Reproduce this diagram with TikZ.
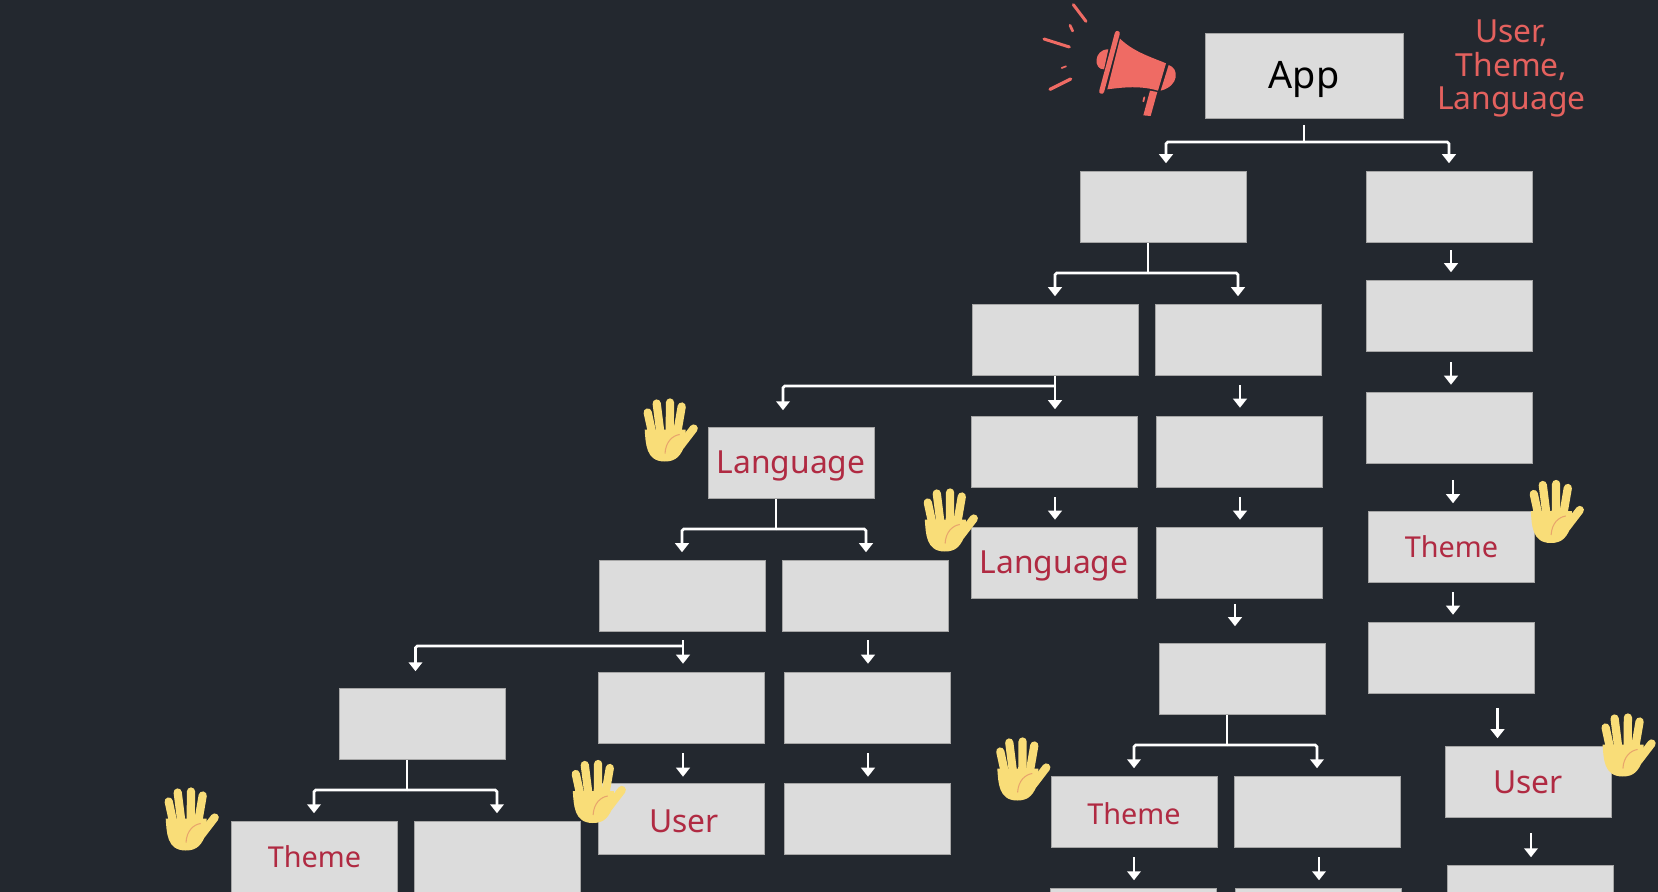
\documentclass[tikz,border=0pt]{standalone}
\usepackage{fontspec}
\setmainfont{Noto Sans}
\usetikzlibrary{arrows.meta}
\definecolor{slate}{HTML}{23282F}
\definecolor{boxgray}{HTML}{DCDCDC}
\definecolor{keyred}{HTML}{B02A42}
\definecolor{shout}{HTML}{E4615E}
\definecolor{horn}{HTML}{EF6B64}
\definecolor{palm}{HTML}{F9DD78}
\definecolor{crease}{HTML}{E8A56C}

\begin{document}
\begin{tikzpicture}[
  x=0.02cm,y=-0.02cm,
  panel/.style={draw=black!35,line width=0.3pt,fill=boxgray,inner sep=0pt,minimum width=3.32cm,minimum height=1.42cm},
  keyword/.style={text=keyred,font=\fontsize{18.1}{20}\selectfont},
  themeword/.style={text=keyred,font=\fontsize{16.4}{20}\selectfont},
  wire/.style={draw=white,line width=1.5pt},
  arrow/.style={wire,rounded corners=1pt,-{Triangle[length=1.8mm,width=2.7mm]}},
  hand/.pic={
    \foreach \tx/\ty/\bx/\by in {-19/-23/-14/0,-10/-32/-6/0,3.3/-33/3/0,15/-29/10/0,27/-7/14/10}
      \draw[palm,line width=1.65mm,line cap=round] (\bx,\by) -- (\tx,\ty);
    \fill[palm] (-22,-6) .. controls (-21,8) and (-21,26) .. (-2,26) .. controls (10,26) and (14,20) .. (19,8) -- (19,-6) -- cycle;
    \draw[crease,line width=0.6pt] (-1.7,18) .. controls (-1,6) and (6,0) .. (13,-1);
  }
]
\useasboundingbox (0,0) rectangle (1658,892);
\clip (0,0) rectangle (1658,892);
\fill[slate] (0,0) rectangle (1658,892);

% Top of the tree
\node[panel,minimum width=3.96cm,minimum height=1.7cm,text height=19pt,font=\fontsize{21.5}{24}\selectfont] (app) at (1304,76) {App};
\node[text=shout,align=center,font=\fontsize{18.1}{19.2}\selectfont] (provided) at (1511.5,68.5) {User,\\Theme,\\Language};
\node[panel] (b1) at (1163,207) {};

% Right column
\node[panel] (c1) at (1449,207) {};
\node[panel] (c2) at (1449,316) {};
\node[panel] (c3) at (1449,427.5) {};
\node[panel,themeword] (cTheme) at (1451.5,547) {Theme};
\node[panel] (c5) at (1451.5,658) {};
\node[panel,keyword] (cUser) at (1528,782) {User};
\node[panel] (c7) at (1530.6,901) {};

% Middle columns
\node[panel] (d1) at (1055,340) {};
\node[panel] (d2) at (1054,452) {};
\node[panel,keyword,text height=16.3pt] (dLang) at (1054,563) {Language};
\node[panel] (e1) at (1238,340) {};
\node[panel] (e2) at (1239,452) {};
\node[panel] (e3) at (1239,563) {};
\node[panel] (e4) at (1242.5,679) {};
\node[panel,themeword,text height=14.9pt] (eTheme) at (1134,812) {Theme};
\node[panel] (e5) at (1317.7,812) {};
\node[panel] (e6) at (1133,924) {};
\node[panel] (e7) at (1318.6,924) {};

% Left branch
\node[panel,keyword,text height=16.3pt] (fLang) at (791,463) {Language};
\node[panel] (f1) at (682.6,596) {};
\node[panel] (f2) at (865.5,596) {};
\node[panel] (f3) at (681.5,708) {};
\node[panel] (f4) at (867,708) {};
\node[panel,keyword,text height=15.3pt] (fUser) at (681.5,819) {\hspace*{3pt}User};
\node[panel] (f5) at (867,819) {};
\node[panel] (g1) at (422.5,724) {};
\node[panel,themeword] (gTheme) at (314.5,857) {Theme};
\node[panel] (g2) at (497.5,857) {};

% Forks with two children
\foreach \from/\stem/\forky/\gap/\toa/\xa/\tob/\xb in {app/1304/142/6/b1/1166/c1/1449,b1/1148/273/0/d1/1055/e1/1238,fLang/776/529/0/f1/682/f2/866,e4/1227/745/0/eTheme/1134/e5/1317,g1/407/790/0/gTheme/314/g2/497} {
  \coordinate (fork) at (\stem,\forky);
  \draw[wire,shorten <=\gap*0.02cm] (\from.south -| \stem,0) -- (fork);
  \draw[arrow,shorten >=1.6mm] (fork) -| (\toa.north -| \xa,0);
  \draw[arrow,shorten >=1.6mm] (fork) -| (\tob.north -| \xb,0);
}

% Forks that reach a far branch
\coordinate (dfork) at (1055,386);
\draw[arrow,shorten >=3.4mm] (dfork) -| (fLang.north -| 783,0);
\coordinate (ffork) at (683,646);
\draw[arrow,shorten >=3.4mm] (ffork) -| (g1.north -| 415.5,0);

% Straight links
\foreach \from/\to/\x/\a/\b in {c1/c2/1451/7.5/8,c2/c3/1451/10.5/7,c3/cTheme/1453/16.5/8,cTheme/c5/1453/9.5/7.5,c5/cUser/1497.5/14.5/8,cUser/c7/1531/15.5/8,d1/d2/1055/0/7,d2/dLang/1055/9.5/7.5,e1/e2/1240/9.5/8.5,e2/e3/1240/9.5/7.5,e3/e4/1235/5.5/17,eTheme/e6/1134/9.5/8,e5/e7/1319/9.5/8,f1/f3/683/8.5/8.5,f2/f4/868/8.5/8.5,f3/fUser/683/9.5/6.5,f4/f5/868/9.5/6.5}
  \draw[arrow,shorten <=\a*0.02cm,shorten >=\b*0.02cm] (\from.south -| \x,0) -- (\to.north -| \x,0);

% Raised hands
\foreach \x/\y in {666.7/435.5,946.8/525.5,1552.8/517,1624.6/750.5,1019.3/774.5,594.8/797,187.7/824.5}
  \pic at (\x,\y) {hand};

% Megaphone
\begin{scope}[shift={(1020,0)},x=0.00667cm,y=-0.00667cm]
  \fill[horn] (265,148) .. controls (220,148) and (220,210) .. (252,208) -- cycle;
  \fill[horn] (300,116) .. controls (340,155) and (390,170) .. (438,190) -- (414,272) .. controls (360,256) and (310,262) .. (262,268) -- cycle;
  \fill[horn] (446,195) .. controls (478,205) and (478,258) .. (422,272) -- cycle;
  \draw[horn,line width=1mm,line cap=round] (292,100) -- (245,274);
  \fill[horn] (390,272) -- (412,276) -- (392,348) -- (370,346) -- cycle;
  \draw[horn,line width=0.35mm,line cap=round] (373,292) -- (370,304);
  \foreach \ax/\ay/\cx/\cy/\w in {160/14/198/64/0.6,150/76/158/93/0.55,72/117/148/141/0.6,125/204/138/199/0.35,90/268/152/237/0.65}
    \draw[horn,line width=\w mm,line cap=round] (\ax,\ay) -- (\cx,\cy);
\end{scope}
\end{tikzpicture}
\end{document}
